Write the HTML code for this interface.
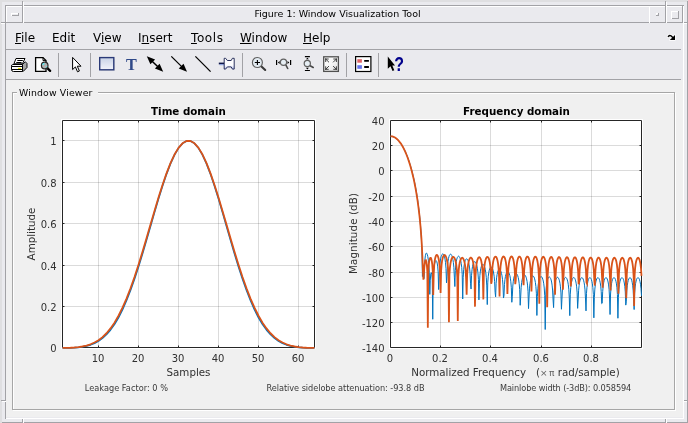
<!DOCTYPE html>
<html><head><meta charset="utf-8"><title>Figure 1: Window Visualization Tool</title>
<style>
html,body{margin:0;padding:0}
body{width:688px;height:423px;position:relative;overflow:hidden;background:#dfdfe1;font-family:"DejaVu Sans","Liberation Sans",sans-serif;color:#000}
div{position:absolute;box-sizing:border-box}
#title{left:24.5px;top:6px;width:626px;height:16px;text-align:center;font-size:9.5px;line-height:15px;color:#000}
#menu{left:6px;top:23px;width:677px;height:26px;font-size:12px}
#menu span{position:absolute;top:7px;line-height:16px}
#menu u{text-decoration:underline;text-underline-offset:1px;text-decoration-thickness:1px}
.plot,.icons{position:absolute;left:0;top:0}
#pt{left:17px;top:87px;width:81px;height:12px;font-size:9.33px;letter-spacing:0.16px;line-height:12px;background:#f0f0f0;padding:0 0 0 2px;white-space:nowrap}
#all{left:0;top:0;width:688px;height:423px;will-change:transform}
</style></head><body><div id="all">
<div style="left:2px;top:2px;width:685px;height:420px;background:#eaeaee"></div>
<div style="left:6px;top:80px;width:677px;height:337px;background:#f0f0f0"></div>
<div style="left:5px;top:5px;width:679px;height:1px;background:#a2a2a6"></div>
<div style="left:6px;top:6px;width:676px;height:1px;background:#ffffff"></div>
<div style="left:1px;top:22px;width:682px;height:1px;background:#a2a2a6"></div>
<div style="left:684px;top:22px;width:4px;height:1px;background:#a2a2a6"></div>
<div style="left:1px;top:23px;width:4px;height:1px;background:#ffffff"></div>
<div style="left:684px;top:23px;width:3px;height:1px;background:#ffffff"></div>
<div style="left:1px;top:400px;width:5px;height:1px;background:#a2a2a6"></div>
<div style="left:684px;top:400px;width:4px;height:1px;background:#a2a2a6"></div>
<div style="left:2px;top:401px;width:4px;height:1px;background:#ffffff"></div>
<div style="left:684px;top:401px;width:3px;height:1px;background:#ffffff"></div>
<div style="left:6px;top:418px;width:678px;height:1px;background:#ffffff"></div>
<div style="left:2px;top:422px;width:686px;height:1px;background:#a2a2a6"></div>
<div style="left:5px;top:5px;width:1px;height:396px;background:#a2a2a6"></div>
<div style="left:5px;top:402px;width:1px;height:17px;background:#a2a2a6"></div>
<div style="left:6px;top:6px;width:1px;height:16px;background:#ffffff"></div>
<div style="left:22px;top:1px;width:1px;height:22px;background:#a2a2a6"></div>
<div style="left:23px;top:2px;width:1px;height:21px;background:#ffffff"></div>
<div style="left:22px;top:419px;width:1px;height:4px;background:#a2a2a6"></div>
<div style="left:23px;top:419px;width:1px;height:4px;background:#ffffff"></div>
<div style="left:665px;top:1px;width:1px;height:22px;background:#a2a2a6"></div>
<div style="left:666px;top:2px;width:1px;height:21px;background:#ffffff"></div>
<div style="left:665px;top:419px;width:1px;height:4px;background:#a2a2a6"></div>
<div style="left:666px;top:419px;width:1px;height:4px;background:#ffffff"></div>
<div style="left:649px;top:6px;width:1px;height:17px;background:#ffffff"></div>
<div style="left:682px;top:6px;width:1px;height:17px;background:#a2a2a6"></div>
<div style="left:683px;top:6px;width:1px;height:413px;background:#ffffff"></div>
<div style="left:687px;top:1px;width:1px;height:422px;background:#a2a2a6"></div>
<div style="left:6px;top:49px;width:675px;height:1px;background:#a2a2a6"></div>
<div style="left:6px;top:79px;width:675px;height:1px;background:#a2a2a6"></div>
<div style="left:11px;top:13px;width:8px;height:1px;background:#ffffff"></div>
<div style="left:11px;top:13px;width:1px;height:3px;background:#ffffff"></div>
<div style="left:12px;top:15px;width:7px;height:1px;background:#a2a2a6"></div>
<div style="left:18px;top:13px;width:1px;height:3px;background:#a2a2a6"></div>
<div style="left:656px;top:13px;width:2px;height:1px;background:#ffffff"></div>
<div style="left:656px;top:13px;width:1px;height:2px;background:#ffffff"></div>
<div style="left:656px;top:15px;width:3px;height:1px;background:#a2a2a6"></div>
<div style="left:658px;top:13px;width:1px;height:3px;background:#a2a2a6"></div>
<div style="left:671px;top:11px;width:8px;height:1px;background:#ffffff"></div>
<div style="left:671px;top:11px;width:1px;height:8px;background:#ffffff"></div>
<div style="left:672px;top:18px;width:7px;height:1px;background:#a2a2a6"></div>
<div style="left:678px;top:11px;width:1px;height:8px;background:#a2a2a6"></div>
<div style="left:58px;top:53px;width:1px;height:24px;background:#a2a2a6"></div>
<div style="left:90px;top:53px;width:1px;height:24px;background:#a2a2a6"></div>
<div style="left:242px;top:53px;width:1px;height:24px;background:#a2a2a6"></div>
<div style="left:346px;top:53px;width:1px;height:24px;background:#a2a2a6"></div>
<div style="left:378px;top:53px;width:1px;height:24px;background:#a2a2a6"></div>
<div style="left:13px;top:93px;width:663px;height:318px;border:1px solid #ffffff"></div>
<div style="left:12px;top:92px;width:663px;height:318px;border:1px solid #a6a6a6"></div>
<div id="title">Figure 1: Window Visualization Tool</div>
<div id="menu"><span style="left:9px"><u>F</u>ile</span><span style="left:46px">Edit</span><span style="left:87px">V<u>i</u>ew</span><span style="left:132px">I<u>n</u>sert</span><span style="left:185px;letter-spacing:0.6px"><u>T</u>ools</span><span style="left:234px"><u>W</u>indow</span><span style="left:297px"><u>H</u>elp</span></div>
<div id="pt">Window Viewer</div>
<svg class="plot" width="688" height="423" viewBox="0 0 688 423">
<rect x="61.0" y="119.0" width="255.0" height="230.0" fill="#fff"/>
<rect x="389.0" y="119.0" width="254.0" height="230.0" fill="#fff"/>
<path d="M98.5 120.5V347.5M138.5 120.5V347.5M178.5 120.5V347.5M218.5 120.5V347.5M258.5 120.5V347.5M298.5 120.5V347.5M440.5 120.5V347.5M490.5 120.5V347.5M541.5 120.5V347.5M591.5 120.5V347.5" stroke="#000" stroke-opacity="0.14" stroke-width="1" fill="none"/>
<path d="M62.5 306.5H314.5M62.5 265.5H314.5M62.5 223.5H314.5M62.5 182.5H314.5M62.5 140.5H314.5M390.5 145.5H641.5M390.5 170.5H641.5M390.5 196.5H641.5M390.5 221.5H641.5M390.5 246.5H641.5M390.5 272.5H641.5M390.5 297.5H641.5M390.5 322.5H641.5" stroke="#000" stroke-opacity="0.14" stroke-width="1" fill="none"/>
<path d="M62.5 120.5H314.5V347.5H62.5ZM390.5 120.5H641.5V347.5H390.5ZM98.5 347.5v-2.0M98.5 120.5v2.0M138.5 347.5v-2.0M138.5 120.5v2.0M178.5 347.5v-2.0M178.5 120.5v2.0M218.5 347.5v-2.0M218.5 120.5v2.0M258.5 347.5v-2.0M258.5 120.5v2.0M298.5 347.5v-2.0M298.5 120.5v2.0M62.5 306.5h2.0M314.5 306.5h-2.0M62.5 265.5h2.0M314.5 265.5h-2.0M62.5 223.5h2.0M314.5 223.5h-2.0M62.5 182.5h2.0M314.5 182.5h-2.0M62.5 140.5h2.0M314.5 140.5h-2.0M440.5 347.5v-2.0M440.5 120.5v2.0M490.5 347.5v-2.0M490.5 120.5v2.0M541.5 347.5v-2.0M541.5 120.5v2.0M591.5 347.5v-2.0M591.5 120.5v2.0M390.5 145.5h2.0M641.5 145.5h-2.0M390.5 170.5h2.0M641.5 170.5h-2.0M390.5 196.5h2.0M641.5 196.5h-2.0M390.5 221.5h2.0M641.5 221.5h-2.0M390.5 246.5h2.0M641.5 246.5h-2.0M390.5 272.5h2.0M641.5 272.5h-2.0M390.5 297.5h2.0M641.5 297.5h-2.0M390.5 322.5h2.0M641.5 322.5h-2.0" stroke="#262626" stroke-width="1" fill="none"/>
<clipPath id="cl"><rect x="61.0" y="119.0" width="255.0" height="230.0"/></clipPath>
<clipPath id="cr"><rect x="389.0" y="119.0" width="254.0" height="229.5"/></clipPath>
<g fill="none" stroke-linejoin="round" clip-path="url(#cl)">
<path d="M62.50,347.99 L66.50,347.96 L70.50,347.86 L74.50,347.67 L78.50,347.34 L82.50,346.82 L86.50,346.03 L90.50,344.88 L94.50,343.26 L98.50,341.08 L102.50,338.20 L106.50,334.51 L110.50,329.90 L114.50,324.27 L118.50,317.52 L122.50,309.62 L126.50,300.55 L130.50,290.32 L134.50,279.01 L138.50,266.75 L142.50,253.70 L146.50,240.10 L150.50,226.20 L154.50,212.31 L158.50,198.77 L162.50,185.92 L166.50,174.10 L170.50,163.66 L174.50,154.89 L178.50,148.07 L182.50,143.40 L186.50,141.03 L190.50,141.03 L194.50,143.40 L198.50,148.07 L202.50,154.89 L206.50,163.66 L210.50,174.10 L214.50,185.92 L218.50,198.77 L222.50,212.31 L226.50,226.20 L230.50,240.10 L234.50,253.70 L238.50,266.75 L242.50,279.01 L246.50,290.32 L250.50,300.55 L254.50,309.62 L258.50,317.52 L262.50,324.27 L266.50,329.90 L270.50,334.51 L274.50,338.20 L278.50,341.08 L282.50,343.26 L286.50,344.88 L290.50,346.03 L294.50,346.82 L298.50,347.34 L302.50,347.67 L306.50,347.86 L310.50,347.96 L314.50,347.99" stroke="#0072bd" stroke-width="1.6"/>
<path d="M62.50,347.92 L66.50,347.88 L70.50,347.75 L74.50,347.51 L78.50,347.11 L82.50,346.49 L86.50,345.58 L90.50,344.29 L94.50,342.52 L98.50,340.17 L102.50,337.11 L106.50,333.24 L110.50,328.45 L114.50,322.64 L118.50,315.75 L122.50,307.72 L126.50,298.55 L130.50,288.28 L134.50,276.96 L138.50,264.74 L142.50,251.78 L146.50,238.31 L150.50,224.58 L154.50,210.89 L158.50,197.57 L162.50,184.95 L166.50,173.37 L170.50,163.14 L174.50,154.57 L178.50,147.90 L182.50,143.34 L186.50,141.02 L190.50,141.02 L194.50,143.34 L198.50,147.90 L202.50,154.57 L206.50,163.14 L210.50,173.37 L214.50,184.95 L218.50,197.57 L222.50,210.89 L226.50,224.58 L230.50,238.31 L234.50,251.78 L238.50,264.74 L242.50,276.96 L246.50,288.28 L250.50,298.55 L254.50,307.72 L258.50,315.75 L262.50,322.64 L266.50,328.45 L270.50,333.24 L274.50,337.11 L278.50,340.17 L282.50,342.52 L286.50,344.29 L290.50,345.58 L294.50,346.49 L298.50,347.11 L302.50,347.51 L306.50,347.75 L310.50,347.88 L314.50,347.92" stroke="#d95319" stroke-width="1.8"/>
</g>
<g fill="none" stroke-linejoin="miter" stroke-miterlimit="6" clip-path="url(#cr)">
<path d="M390.50,136.36 L390.99,136.38 L391.48,136.43 L391.97,136.50 L392.46,136.61 L392.96,136.76 L393.45,136.93 L393.94,137.14 L394.43,137.38 L394.92,137.65 L395.41,137.95 L395.90,138.28 L396.39,138.65 L396.89,139.05 L397.38,139.49 L397.87,139.96 L398.36,140.46 L398.85,141.00 L399.34,141.57 L399.83,142.18 L400.32,142.83 L400.82,143.51 L401.31,144.23 L401.80,144.99 L402.29,145.78 L402.78,146.62 L403.27,147.49 L403.76,148.41 L404.25,149.37 L404.74,150.37 L405.24,151.42 L405.73,152.51 L406.22,153.64 L406.71,154.83 L407.20,156.07 L407.69,157.35 L408.18,158.69 L408.67,160.09 L409.17,161.54 L409.66,163.05 L410.15,164.63 L410.64,166.27 L411.13,167.98 L411.62,169.76 L412.11,171.62 L412.60,173.56 L413.09,175.58 L413.59,177.70 L414.08,179.91 L414.57,182.23 L415.06,184.67 L415.55,187.23 L416.04,189.93 L416.53,192.78 L417.02,195.81 L417.52,199.03 L418.01,202.48 L418.50,206.18 L418.99,210.21 L419.48,214.61 L419.97,219.50 L420.46,225.05 L420.95,231.52 L421.45,239.51 L421.94,250.59 L422.43,276.49 L422.92,265.70 L423.41,265.50 L423.90,278.75 L424.39,269.74 L424.88,260.01 L425.37,255.76 L425.87,253.72 L426.36,253.02 L426.85,253.34 L427.34,254.56 L427.83,256.70 L428.32,259.93 L428.81,264.72 L429.30,272.50 L429.80,294.40 L430.29,280.13 L430.78,273.94 L431.27,272.61 L431.76,274.20 L432.25,279.82 L432.74,319.26 L433.23,278.44 L433.73,270.37 L434.22,265.94 L434.71,263.19 L435.20,261.53 L435.69,260.71 L436.18,260.65 L436.67,261.38 L437.16,263.06 L437.65,266.11 L438.15,271.87 L438.64,289.54 L439.13,276.28 L439.62,266.93 L440.11,262.05 L440.60,258.89 L441.09,256.74 L441.58,255.27 L442.08,254.36 L442.57,253.92 L443.06,253.93 L443.55,254.38 L444.04,255.32 L444.53,256.85 L445.02,259.14 L445.51,262.61 L446.00,268.42 L446.50,282.86 L446.99,276.76 L447.48,266.56 L447.97,261.66 L448.46,258.62 L448.95,256.61 L449.44,255.28 L449.93,254.49 L450.43,254.16 L450.92,254.24 L451.41,254.75 L451.90,255.70 L452.39,257.18 L452.88,259.33 L453.37,262.47 L453.86,267.38 L454.36,277.11 L454.85,286.55 L455.34,270.65 L455.83,264.75 L456.32,261.30 L456.81,259.06 L457.30,257.59 L457.79,256.69 L458.28,256.26 L458.78,256.24 L459.27,256.64 L459.76,257.45 L460.25,258.75 L460.74,260.65 L461.23,263.36 L461.72,267.41 L462.21,274.37 L462.71,298.97 L463.20,277.33 L463.69,269.33 L464.18,265.12 L464.67,262.47 L465.16,260.72 L465.65,259.61 L466.14,259.00 L466.64,258.82 L467.13,259.04 L467.62,259.68 L468.11,260.75 L468.60,262.35 L469.09,264.64 L469.58,267.95 L470.07,273.15 L470.56,283.81 L471.06,289.05 L471.55,275.28 L472.04,269.73 L472.53,266.44 L473.02,264.30 L473.51,262.90 L474.00,262.04 L474.49,261.65 L474.99,261.66 L475.48,262.08 L475.97,262.90 L476.46,264.20 L476.95,266.08 L477.44,268.75 L477.93,272.71 L478.42,279.39 L478.91,299.90 L479.41,283.79 L479.90,275.32 L480.39,270.97 L480.88,268.24 L481.37,266.44 L481.86,265.28 L482.35,264.61 L482.84,264.38 L483.34,264.54 L483.83,265.10 L484.32,266.09 L484.81,267.57 L485.30,269.68 L485.79,272.71 L486.28,277.34 L486.77,285.92 L487.27,304.59 L487.76,282.82 L488.25,276.34 L488.74,272.65 L489.23,270.27 L489.72,268.70 L490.21,267.70 L490.70,267.16 L491.19,267.04 L491.69,267.31 L492.18,267.97 L492.67,269.07 L493.16,270.69 L493.65,272.99 L494.14,276.31 L494.63,281.54 L495.12,292.37 L495.62,296.84 L496.11,283.37 L496.60,277.84 L497.09,274.54 L497.58,272.37 L498.07,270.92 L498.56,270.02 L499.05,269.56 L499.55,269.51 L500.04,269.83 L500.53,270.55 L501.02,271.72 L501.51,273.42 L502.00,275.84 L502.49,279.36 L502.98,285.04 L503.47,298.04 L503.97,295.66 L504.46,284.61 L504.95,279.55 L505.44,276.44 L505.93,274.37 L506.42,272.99 L506.91,272.13 L507.40,271.71 L507.90,271.68 L508.39,272.02 L508.88,272.77 L509.37,273.96 L509.86,275.69 L510.35,278.16 L510.84,281.79 L511.33,287.71 L511.82,302.27 L512.32,296.20 L512.81,286.07 L513.30,281.20 L513.79,278.17 L514.28,276.14 L514.77,274.78 L515.26,273.93 L515.75,273.51 L516.25,273.47 L516.74,273.82 L517.23,274.56 L517.72,275.75 L518.21,277.49 L518.70,279.97 L519.19,283.64 L519.68,289.70 L520.18,305.29 L520.67,297.07 L521.16,287.35 L521.65,282.57 L522.14,279.57 L522.63,277.55 L523.12,276.19 L523.61,275.34 L524.10,274.91 L524.60,274.87 L525.09,275.21 L525.58,275.94 L526.07,277.13 L526.56,278.88 L527.05,281.39 L527.54,285.12 L528.03,291.37 L528.53,308.58 L529.02,297.36 L529.51,288.14 L530.00,283.48 L530.49,280.53 L530.98,278.53 L531.47,277.18 L531.96,276.34 L532.45,275.92 L532.95,275.88 L533.44,276.23 L533.93,276.99 L534.42,278.20 L534.91,280.00 L535.40,282.59 L535.89,286.49 L536.38,293.20 L536.88,315.46 L537.37,296.59 L537.86,288.24 L538.35,283.82 L538.84,280.98 L539.33,279.06 L539.82,277.76 L540.31,276.96 L540.81,276.58 L541.30,276.59 L541.79,276.98 L542.28,277.79 L542.77,279.09 L543.26,280.99 L543.75,283.77 L544.24,288.02 L544.73,295.73 L545.23,329.50 L545.72,294.82 L546.21,287.65 L546.70,283.63 L547.19,280.99 L547.68,279.20 L548.17,278.01 L548.66,277.29 L549.16,276.99 L549.65,277.08 L550.14,277.56 L550.63,278.48 L551.12,279.92 L551.61,282.02 L552.10,285.12 L552.59,290.02 L553.09,299.96 L553.58,307.60 L554.07,292.46 L554.56,286.55 L555.05,283.02 L555.54,280.66 L556.03,279.06 L556.52,278.02 L557.01,277.43 L557.51,277.24 L558.00,277.46 L558.49,278.08 L558.98,279.17 L559.47,280.82 L559.96,283.23 L560.45,286.85 L560.94,292.93 L561.44,309.25 L561.93,299.45 L562.42,289.95 L562.91,285.18 L563.40,282.17 L563.89,280.13 L564.38,278.75 L564.87,277.89 L565.36,277.47 L565.86,277.45 L566.35,277.83 L566.84,278.64 L567.33,279.95 L567.82,281.90 L568.31,284.77 L568.80,289.25 L569.29,297.73 L569.79,315.64 L570.28,294.15 L570.77,287.55 L571.26,283.73 L571.75,281.22 L572.24,279.51 L572.73,278.38 L573.22,277.73 L573.72,277.50 L574.21,277.67 L574.70,278.26 L575.19,279.31 L575.68,280.92 L576.17,283.29 L576.66,286.86 L577.15,292.83 L577.64,308.37 L578.14,299.99 L578.63,290.22 L579.12,285.39 L579.61,282.34 L580.10,280.28 L580.59,278.90 L581.08,278.04 L581.57,277.61 L582.07,277.60 L582.56,278.00 L583.05,278.83 L583.54,280.18 L584.03,282.18 L584.52,285.15 L585.01,289.83 L585.50,299.01 L586.00,310.88 L586.49,293.38 L586.98,287.17 L587.47,283.51 L587.96,281.08 L588.45,279.44 L588.94,278.37 L589.43,277.77 L589.92,277.59 L590.42,277.81 L590.91,278.47 L591.40,279.60 L591.89,281.32 L592.38,283.86 L592.87,287.72 L593.36,294.46 L593.85,317.84 L594.35,297.40 L594.84,289.13 L595.33,284.74 L595.82,281.91 L596.31,280.00 L596.80,278.73 L597.29,277.96 L597.78,277.62 L598.27,277.70 L598.77,278.19 L599.26,279.14 L599.75,280.63 L600.24,282.84 L600.73,286.14 L601.22,291.52 L601.71,303.64 L602.20,303.16 L602.70,291.36 L603.19,286.05 L603.68,282.78 L604.17,280.59 L604.66,279.11 L605.15,278.18 L605.64,277.70 L606.13,277.64 L606.63,277.98 L607.12,278.77 L607.61,280.07 L608.10,282.01 L608.59,284.89 L609.08,289.39 L609.57,297.99 L610.06,314.53 L610.55,294.00 L611.05,287.49 L611.54,283.71 L612.03,281.22 L612.52,279.53 L613.01,278.43 L613.50,277.81 L613.99,277.62 L614.48,277.83 L614.98,278.48 L615.47,279.60 L615.96,281.32 L616.45,283.86 L616.94,287.73 L617.43,294.48 L617.92,318.24 L618.41,297.31 L618.91,289.08 L619.40,284.70 L619.89,281.88 L620.38,279.98 L620.87,278.72 L621.36,277.96 L621.85,277.63 L622.34,277.73 L622.83,278.24 L623.33,279.21 L623.82,280.73 L624.31,282.99 L624.80,286.38 L625.29,291.96 L625.78,305.11 L626.27,301.87 L626.76,290.91 L627.26,285.78 L627.75,282.60 L628.24,280.47 L628.73,279.03 L629.22,278.13 L629.71,277.69 L630.20,277.66 L630.69,278.04 L631.18,278.87 L631.68,280.22 L632.17,282.24 L632.66,285.24 L633.15,289.99 L633.64,299.44 L634.13,309.56 L634.62,293.08 L635.11,286.99 L635.61,283.39 L636.10,281.00 L636.59,279.38 L637.08,278.34 L637.57,277.77 L638.06,277.62 L638.55,277.89 L639.04,278.59 L639.54,279.78 L640.03,281.59 L640.52,284.26 L641.01,288.37 L641.50,295.79" stroke="#0072bd" stroke-width="1"/>
<path d="M390.50,136.21 L390.99,136.23 L391.48,136.28 L391.97,136.36 L392.46,136.47 L392.96,136.62 L393.45,136.80 L393.94,137.01 L394.43,137.26 L394.92,137.54 L395.41,137.85 L395.90,138.20 L396.39,138.57 L396.89,138.99 L397.38,139.44 L397.87,139.92 L398.36,140.44 L398.85,140.99 L399.34,141.58 L399.83,142.21 L400.32,142.87 L400.82,143.58 L401.31,144.32 L401.80,145.10 L402.29,145.91 L402.78,146.77 L403.27,147.67 L403.76,148.62 L404.25,149.60 L404.74,150.63 L405.24,151.71 L405.73,152.83 L406.22,154.00 L406.71,155.22 L407.20,156.49 L407.69,157.81 L408.18,159.18 L408.67,160.62 L409.17,162.11 L409.66,163.66 L410.15,165.27 L410.64,166.95 L411.13,168.71 L411.62,170.53 L412.11,172.43 L412.60,174.42 L413.09,176.49 L413.59,178.65 L414.08,180.91 L414.57,183.28 L415.06,185.76 L415.55,188.37 L416.04,191.12 L416.53,194.02 L417.02,197.08 L417.52,200.34 L418.01,203.81 L418.50,207.53 L418.99,211.54 L419.48,215.90 L419.97,220.68 L420.46,225.99 L420.95,231.99 L421.45,238.93 L421.94,247.24 L422.43,257.63 L422.92,270.80 L423.41,279.79 L423.90,273.23 L424.39,266.34 L424.88,262.33 L425.37,260.42 L425.87,260.16 L426.36,261.46 L426.85,264.68 L427.34,271.57 L427.83,327.67 L428.32,271.55 L428.81,264.37 L429.30,260.73 L429.80,258.76 L430.29,257.90 L430.78,257.94 L431.27,258.88 L431.76,260.85 L432.25,264.33 L432.74,270.85 L433.23,295.06 L433.73,273.25 L434.22,265.08 L434.71,260.79 L435.20,258.13 L435.69,256.43 L436.18,255.44 L436.67,255.03 L437.16,255.13 L437.65,255.75 L438.15,256.94 L438.64,258.81 L439.13,261.65 L439.62,266.11 L440.11,274.57 L440.60,293.00 L441.09,271.22 L441.58,264.67 L442.08,260.92 L442.57,258.48 L443.06,256.84 L443.55,255.79 L444.04,255.20 L444.53,255.01 L445.02,255.20 L445.51,255.77 L446.00,256.74 L446.50,258.19 L446.99,260.23 L447.48,263.12 L447.97,267.44 L448.46,275.10 L448.95,322.36 L449.44,275.06 L449.93,267.81 L450.43,263.78 L450.92,261.16 L451.41,259.36 L451.90,258.14 L452.39,257.36 L452.88,256.97 L453.37,256.91 L453.86,257.18 L454.36,257.80 L454.85,258.79 L455.34,260.23 L455.83,262.24 L456.32,265.09 L456.81,269.37 L457.30,276.98 L457.79,320.96 L458.28,276.68 L458.78,269.36 L459.27,265.24 L459.76,262.53 L460.25,260.63 L460.74,259.31 L461.23,258.44 L461.72,257.95 L462.21,257.80 L462.71,258.00 L463.20,258.54 L463.69,259.49 L464.18,260.90 L464.67,262.93 L465.16,265.88 L465.65,270.43 L466.14,279.13 L466.64,294.77 L467.13,274.82 L467.62,268.30 L468.11,264.46 L468.60,261.89 L469.09,260.10 L469.58,258.86 L470.07,258.08 L470.56,257.69 L471.06,257.66 L471.55,258.01 L472.04,258.76 L472.53,259.97 L473.02,261.76 L473.51,264.38 L474.00,268.37 L474.49,275.45 L474.99,306.63 L475.48,276.72 L475.97,268.89 L476.46,264.59 L476.95,261.78 L477.44,259.84 L477.93,258.52 L478.42,257.68 L478.91,257.26 L479.41,257.23 L479.90,257.59 L480.39,258.37 L480.88,259.64 L481.37,261.54 L481.86,264.33 L482.35,268.67 L482.84,276.76 L483.34,299.39 L483.83,274.25 L484.32,267.38 L484.81,263.44 L485.30,260.84 L485.79,259.06 L486.28,257.87 L486.77,257.15 L487.27,256.86 L487.76,256.96 L488.25,257.47 L488.74,258.44 L489.23,259.95 L489.72,262.18 L490.21,265.52 L490.70,271.00 L491.19,283.68 L491.69,281.60 L492.18,270.29 L492.67,265.06 L493.16,261.82 L493.65,259.64 L494.14,258.16 L494.63,257.21 L495.12,256.72 L495.62,256.64 L496.11,256.97 L496.60,257.73 L497.09,259.00 L497.58,260.90 L498.07,263.72 L498.56,268.12 L499.05,276.40 L499.55,296.50 L500.04,273.36 L500.53,266.64 L501.02,262.78 L501.51,260.24 L502.00,258.51 L502.49,257.38 L502.98,256.74 L503.47,256.52 L503.97,256.71 L504.46,257.32 L504.95,258.42 L505.44,260.10 L505.93,262.60 L506.42,266.39 L506.91,272.94 L507.40,293.94 L507.90,276.72 L508.39,268.18 L508.88,263.70 L509.37,260.84 L509.86,258.90 L510.35,257.62 L510.84,256.84 L511.33,256.51 L511.82,256.59 L512.32,257.10 L512.81,258.07 L513.30,259.59 L513.79,261.86 L514.28,265.26 L514.77,270.87 L515.26,284.20 L515.75,280.53 L516.25,269.69 L516.74,264.59 L517.23,261.43 L517.72,259.31 L518.21,257.89 L518.70,257.01 L519.19,256.58 L519.68,256.58 L520.18,256.99 L520.67,257.86 L521.16,259.27 L521.65,261.36 L522.14,264.48 L522.63,269.49 L523.12,279.94 L523.61,285.16 L524.10,271.17 L524.60,265.45 L525.09,262.01 L525.58,259.72 L526.07,258.19 L526.56,257.21 L527.05,256.71 L527.54,256.63 L528.03,256.97 L528.53,257.75 L529.02,259.06 L529.51,261.02 L530.00,263.93 L530.49,268.51 L530.98,277.38 L531.47,291.55 L531.96,272.63 L532.45,266.27 L532.95,262.57 L533.44,260.13 L533.93,258.49 L534.42,257.43 L534.91,256.86 L535.40,256.71 L535.89,256.99 L536.38,257.71 L536.88,258.93 L537.37,260.78 L537.86,263.53 L538.35,267.79 L538.84,275.65 L539.33,303.68 L539.82,274.09 L540.31,267.07 L540.81,263.11 L541.30,260.53 L541.79,258.79 L542.28,257.66 L542.77,257.03 L543.26,256.83 L543.75,257.05 L544.24,257.71 L544.73,258.86 L545.23,260.62 L545.72,263.23 L546.21,267.24 L546.70,274.38 L547.19,307.14 L547.68,275.55 L548.17,267.83 L548.66,263.62 L549.16,260.91 L549.65,259.09 L550.14,257.89 L550.63,257.20 L551.12,256.95 L551.61,257.12 L552.10,257.73 L552.59,258.82 L553.09,260.51 L553.58,263.00 L554.07,266.81 L554.56,273.40 L555.05,294.83 L555.54,277.03 L556.03,268.57 L556.52,264.12 L557.01,261.28 L557.51,259.38 L558.00,258.12 L558.49,257.38 L558.98,257.08 L559.47,257.21 L559.96,257.77 L560.45,258.81 L560.94,260.42 L561.44,262.82 L561.93,266.46 L562.42,272.62 L562.91,289.70 L563.40,278.55 L563.89,269.28 L564.38,264.59 L564.87,261.64 L565.36,259.66 L565.86,258.34 L566.35,257.55 L566.84,257.22 L567.33,257.30 L567.82,257.82 L568.31,258.81 L568.80,260.36 L569.29,262.68 L569.79,266.17 L570.28,271.98 L570.77,286.54 L571.26,280.13 L571.75,269.97 L572.24,265.05 L572.73,261.98 L573.22,259.92 L573.72,258.55 L574.21,257.72 L574.70,257.34 L575.19,257.39 L575.68,257.87 L576.17,258.81 L576.66,260.32 L577.15,262.55 L577.64,265.91 L578.14,271.44 L578.63,284.30 L579.12,281.80 L579.61,270.64 L580.10,265.48 L580.59,262.30 L581.08,260.17 L581.57,258.75 L582.07,257.88 L582.56,257.47 L583.05,257.48 L583.54,257.92 L584.03,258.82 L584.52,260.27 L585.01,262.44 L585.50,265.69 L586.00,270.96 L586.49,282.59 L586.98,283.59 L587.47,271.30 L587.96,265.90 L588.45,262.60 L588.94,260.41 L589.43,258.94 L589.92,258.03 L590.42,257.58 L590.91,257.56 L591.40,257.97 L591.89,258.83 L592.38,260.23 L592.87,262.34 L593.36,265.48 L593.85,270.53 L594.35,281.20 L594.84,285.56 L595.33,271.95 L595.82,266.30 L596.31,262.89 L596.80,260.63 L597.29,259.12 L597.78,258.17 L598.27,257.68 L598.77,257.63 L599.26,258.01 L599.75,258.83 L600.24,260.19 L600.73,262.24 L601.22,265.28 L601.71,270.14 L602.20,280.03 L602.70,287.80 L603.19,272.59 L603.68,266.68 L604.17,263.16 L604.66,260.84 L605.15,259.28 L605.64,258.29 L606.13,257.78 L606.63,257.69 L607.12,258.04 L607.61,258.83 L608.10,260.15 L608.59,262.14 L609.08,265.10 L609.57,269.78 L610.06,279.02 L610.55,290.45 L611.05,273.23 L611.54,267.05 L612.03,263.42 L612.52,261.03 L613.01,259.43 L613.50,258.40 L613.99,257.86 L614.48,257.74 L614.98,258.06 L615.47,258.82 L615.96,260.10 L616.45,262.03 L616.94,264.91 L617.43,269.43 L617.92,278.13 L618.41,293.76 L618.91,273.86 L619.40,267.41 L619.89,263.67 L620.38,261.21 L620.87,259.56 L621.36,258.50 L621.85,257.92 L622.34,257.78 L622.83,258.06 L623.33,258.79 L623.82,260.03 L624.31,261.92 L624.80,264.72 L625.29,269.09 L625.78,277.31 L626.27,298.32 L626.76,274.51 L627.26,267.76 L627.75,263.90 L628.24,261.38 L628.73,259.68 L629.22,258.58 L629.71,257.98 L630.20,257.81 L630.69,258.06 L631.18,258.76 L631.68,259.96 L632.17,261.80 L632.66,264.53 L633.15,268.76 L633.64,276.56 L634.13,306.01 L634.62,275.17 L635.11,268.10 L635.61,264.12 L636.10,261.53 L636.59,259.79 L637.08,258.65 L637.57,258.02 L638.06,257.82 L638.55,258.05 L639.04,258.71 L639.54,259.88 L640.03,261.67 L640.52,264.33 L641.01,268.43 L641.50,275.85" stroke="#d95319" stroke-width="1.8"/>
</g>
<g font-family="'DejaVu Sans', 'Liberation Sans', sans-serif" font-size="10" fill="#303030">
<text x="98.0" y="362" text-anchor="middle">10</text>
<text x="138.0" y="362" text-anchor="middle">20</text>
<text x="178.0" y="362" text-anchor="middle">30</text>
<text x="218.0" y="362" text-anchor="middle">40</text>
<text x="258.0" y="362" text-anchor="middle">50</text>
<text x="298.0" y="362" text-anchor="middle">60</text>
<text x="56.6" y="351.5" text-anchor="end">0</text>
<text x="56.6" y="310.5" text-anchor="end">0.2</text>
<text x="56.6" y="269.5" text-anchor="end">0.4</text>
<text x="56.6" y="227.5" text-anchor="end">0.6</text>
<text x="56.6" y="186.5" text-anchor="end">0.8</text>
<text x="56.6" y="144.5" text-anchor="end">1</text>
<text x="390.0" y="362" text-anchor="middle">0</text>
<text x="440.0" y="362" text-anchor="middle">0.2</text>
<text x="490.0" y="362" text-anchor="middle">0.4</text>
<text x="541.0" y="362" text-anchor="middle">0.6</text>
<text x="591.0" y="362" text-anchor="middle">0.8</text>
<text x="384.6" y="124.5" text-anchor="end">40</text>
<text x="384.6" y="149.5" text-anchor="end">20</text>
<text x="384.6" y="174.5" text-anchor="end">0</text>
<text x="384.6" y="200.5" text-anchor="end">-20</text>
<text x="384.6" y="225.5" text-anchor="end">-40</text>
<text x="384.6" y="250.5" text-anchor="end">-60</text>
<text x="384.6" y="276.5" text-anchor="end">-80</text>
<text x="384.6" y="301.5" text-anchor="end">-100</text>
<text x="384.6" y="326.5" text-anchor="end">-120</text>
<text x="384.6" y="351.5" text-anchor="end">-140</text>
</g>
<g font-family="'DejaVu Sans', 'Liberation Sans', sans-serif" font-size="10.3" fill="#303030">
<text x="188.5" y="376" text-anchor="middle">Samples</text>
<text y="376"><tspan x="411.2">Normalized Frequency</tspan><tspan x="536">(</tspan><tspan x="540" font-size="9" fill="#606060">×</tspan><tspan x="549" font-size="9" fill="#606060">π</tspan><tspan x="557.7">rad/sample)</tspan></text>
<text transform="translate(35.2,234) rotate(-90)" text-anchor="middle">Amplitude</text>
<text transform="translate(356.6,274) rotate(-90)" textLength="81">Magnitude (dB)</text>
</g>
<g font-family="'DejaVu Sans', 'Liberation Sans', sans-serif" font-size="10.3" font-weight="bold" fill="#000">
<text x="188.5" y="115" text-anchor="middle">Time domain</text>
<text x="516.5" y="115" text-anchor="middle">Frequency domain</text>
</g>
<g font-family="'DejaVu Sans', 'Liberation Sans', sans-serif" font-size="8.2" fill="#3a3a3a">
<text x="84.7" y="391" textLength="83.3">Leakage Factor: 0 %</text>
<text x="266.5" y="391" textLength="158">Relative sidelobe attenuation: -93.8 dB</text>
<text x="500" y="391" textLength="131.3">Mainlobe width (-3dB): 0.058594</text>
</g>
</svg>
<svg class="icons" width="688" height="423" viewBox="0 0 688 423">
<defs>
<linearGradient id="gr" x1="0" y1="0" x2="0" y2="1"><stop offset="0" stop-color="#c9d3e6"/><stop offset="1" stop-color="#f2f3fa"/></linearGradient>
<linearGradient id="gp" x1="0" y1="0" x2="0" y2="1"><stop offset="0" stop-color="#ffffff"/><stop offset="0.65" stop-color="#fdfdff"/><stop offset="1" stop-color="#b4c2f2"/></linearGradient>
<linearGradient id="gf" x1="0" y1="0" x2="1" y2="1"><stop offset="0" stop-color="#ffffff"/><stop offset="0.5" stop-color="#f6f6f6"/><stop offset="1" stop-color="#dedede"/></linearGradient>
</defs>
<g stroke="#000" stroke-width="1" stroke-linejoin="round">
<path d="M22.5 64.5 L25.3 61.7 L27 63.5 V67.5 L23.5 71.2 L22.5 71.5 Z" fill="#a4a4a4" stroke-width="0.9"/>
<path d="M13.9 63.8 L16 58.5 H25 L22.4 63.8 Z" fill="#fff"/>
<path d="M17.3 60.5 H22.8 M16.3 62.5 H21.6" fill="none"/>
<path d="M12.5 64.5 H22.5 V71.5 H13.5 Q11.5 71.5 11.5 69.5 V66.5 Q11.5 64.5 12.5 64.5 Z" fill="#fff"/>
<path d="M11.5 66.5 H22.5 M11.5 69.5 H22.5" fill="none"/>
</g>
<rect x="18" y="67.9" width="3.1" height="1.1" fill="#ece400"/>
<path d="M35.6 57.6 H43 L46 60.6 V71.4 H35.6 Z" fill="#fff" stroke="#000" stroke-width="1.3" stroke-linejoin="miter"/>
<path d="M43 57.6 V60.6 H46" fill="none" stroke="#000" stroke-width="1"/>
<path d="M47.4 68.2 L50.1 70.8" stroke="#000" stroke-width="2.4" stroke-linecap="round"/>
<circle cx="44.7" cy="65.5" r="3.3" fill="#b0b0b0" stroke="#282828" stroke-width="1.2"/>
<path d="M42.8 65 Q43 63.6 44.4 63.3" stroke="#50f0f8" stroke-width="1.3" fill="none"/>
<path d="M45.8 67.4 Q46.6 67 46.8 66.2" stroke="#50f0f8" stroke-width="1" fill="none"/>
<path d="M72.6 57.4 V69.6 L75.4 66.9 L77.5 71.8 L79.4 71 L77.3 66.2 H81 Z" fill="#fff" stroke="#000" stroke-width="1" stroke-linejoin="miter"/>
<rect x="100.6" y="58.6" width="14.2" height="12.2" fill="#c8c8cc" opacity="0.6"/>
<rect x="99.7" y="57.6" width="14.1" height="12.2" fill="url(#gr)" stroke="#2b3a78" stroke-width="1.4"/>
<text x="131.4" y="69.5" text-anchor="middle" font-family="'Liberation Serif', serif" font-weight="bold" font-size="16.2" fill="#2f4888">T</text>
<path d="M150 59.3 L160 68.7" stroke="#000" stroke-width="1.5"/>
<path d="M146.80 56.20 L150.40 64.31 L155.09 59.38 Z M163.20 71.80 L159.60 63.69 L154.91 68.62 Z" fill="#000"/>
<path d="M171.3 56.4 L184.5 69.4" stroke="#000" stroke-width="1.25"/>
<path d="M187.00 71.80 L183.53 63.63 L178.76 68.49 Z" fill="#000"/>
<path d="M195.4 56.4 L210.6 71.6" stroke="#000" stroke-width="1.25"/>
<path d="M218.8 63.5 H224.6" stroke="#101848" stroke-width="1.8"/>
<path d="M219.6 64.7 H225" stroke="#8ea4e6" stroke-width="1.1"/>
<path d="M224.2 58.3 H225.6 L227.4 60.5 H231.2 L232.4 58.3 H234.2 V69.1 H232.4 L231.2 66.9 H227.4 L225.6 69.1 H224.2 Z" fill="url(#gp)" stroke="#141c4c" stroke-width="0.9" stroke-linejoin="round"/>
<path d="M261.2 66.2 L265.2 70" stroke="#383838" stroke-width="2.1" stroke-linecap="round"/>
<circle cx="257.4" cy="62.5" r="5" fill="#e2eaf1" stroke="#606060" stroke-width="1.15"/>
<path d="M254.8 62.5 H260 M257.4 59.9 V65.1" stroke="#000" stroke-width="1.1"/>
<path d="M276.6 59.9 V65.1 M290.6 59.9 V65.1" stroke="#000" stroke-width="1.2"/>
<path d="M277.9 62.5 L279.7 60.9 V64.1 Z M289.3 62.5 L287.5 60.9 V64.1 Z" fill="#000"/>
<path d="M285.8 64.8 L287.7 68.5" stroke="#484848" stroke-width="1.6" stroke-linecap="round"/>
<circle cx="283.5" cy="62.3" r="3.1" fill="#e6eef4" stroke="#606060" stroke-width="1.2"/>
<path d="M304.9 56.6 H309.9 M304.9 70.5 H309.9" stroke="#000" stroke-width="1.2"/>
<path d="M307.4 57.7 L308.9 59.3 H305.9 Z M307.4 69.4 L308.9 67.8 H305.9 Z" fill="#000"/>
<path d="M309.7 65.5 L313.2 67.5" stroke="#484848" stroke-width="1.6" stroke-linecap="round"/>
<circle cx="307.3" cy="63.5" r="3.1" fill="#e6eef4" stroke="#606060" stroke-width="1.2"/>
<rect x="323.7" y="56.8" width="14.7" height="14.6" fill="url(#gf)" stroke="#505050" stroke-width="1.3"/>
<g stroke="#303030" stroke-width="0.9" fill="none">
<path d="M325.7 59.0 l3.3 3.3 M325.2 59.0 h3.5 M325.7 58.5 v3.5"/>
<path d="M336.4 59.0 l-3.3 3.3 M336.8 59.0 h-3.5 M336.4 58.5 v3.5"/>
<path d="M325.7 69.3 l3.3 -3.3 M325.2 69.3 h3.5 M325.7 69.8 v-3.5"/>
<path d="M336.4 69.3 l-3.3 -3.3 M336.8 69.3 h-3.5 M336.4 69.8 v-3.5"/>
</g>
<rect x="355.6" y="56.6" width="15.3" height="14.9" fill="#fff" stroke="#000" stroke-width="1.2"/>
<rect x="357.3" y="59.2" width="4.6" height="3.5" fill="#e06468"/>
<rect x="357.3" y="65.2" width="4.6" height="3.6" fill="#6674ec"/>
<path d="M364.2 60.9 H368.9 M364.2 67 H368.9" stroke="#000" stroke-width="1.8"/>
<path d="M387.8 56.4 V68.8 L390.5 66.2 L392.5 71 L394.3 70.2 L392.3 65.5 H395 Z" fill="#000"/>
<text transform="translate(399,70.6) scale(0.76,1)" text-anchor="middle" font-family="'Liberation Sans', sans-serif" font-weight="bold" font-size="21" fill="#00008c">?</text>
<g>
<path d="M668.4 36.4 Q669.6 34.9 671 35.8 L673 37.8" stroke="#fff" stroke-width="3" fill="none" stroke-linecap="round"/>
<path d="M675 35 V40 H669.8 Z" fill="#000" stroke="#fff" stroke-width="1.4" stroke-linejoin="round"/>
<path d="M668.4 36.4 Q669.6 34.9 671 35.8 L673 37.8" stroke="#000" stroke-width="1.5" fill="none" stroke-linecap="round"/>
<path d="M675 35 V40 H669.8 Z" fill="#000"/>
</g>
</svg>
</div></body></html>
